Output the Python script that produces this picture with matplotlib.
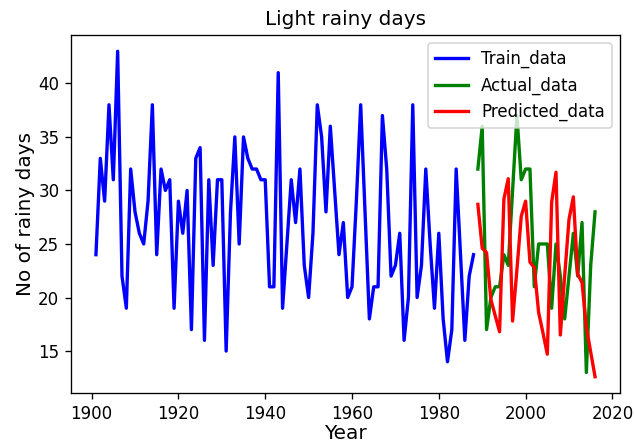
import matplotlib
matplotlib.use("Agg")
import matplotlib.pyplot as plt
import numpy as np

# Light rainy days per year
train_years = list(range(1901, 1989))
train_days = [24, 33, 29, 38, 31, 43, 22, 19, 32, 28,
              26, 25, 29, 38, 24, 32, 30, 31, 19, 29,
              26, 30, 17, 33, 34, 16, 31, 23, 31, 31,
              15, 28, 35, 25, 35, 33, 32, 32, 31, 31,
              21, 21, 41, 19, 25, 31, 27, 32, 23, 20,
              26, 38, 35, 28, 36, 30, 24, 27, 20, 21,
              29, 38, 28, 18, 21, 21, 37, 32, 22, 23,
              26, 16, 20, 38, 20, 23, 32, 25, 19, 26,
              18, 14, 17, 32, 24, 16, 22, 24]

test_years = list(range(1989, 2017))
actual_days = [32, 36, 17, 20, 21, 21, 24, 23, 30, 37,
               31, 32, 32, 21, 25, 25, 25, 19, 25, 22,
               18, 22, 26, 22, 27, 13, 23, 28]
predicted_days = [28.7, 24.6, 24.2, 19.8, 18.3, 16.8, 29.2, 31.1, 17.8, 22.6,
                  27.6, 29.0, 23.3, 22.8, 18.6, 16.7, 14.7, 28.9, 31.7, 16.5,
                  22.0, 27.3, 29.4, 22.2, 21.4, 17.2, 14.9, 12.6]

fig = plt.figure(figsize=(634 / 120, 443 / 120), dpi=120)
ax = fig.add_axes([71 / 634, 50 / 443, 549 / 634, 358 / 443])

ax.plot(train_years, train_days, color="blue", linewidth=2, label="Train_data")
ax.plot(test_years, actual_days, color="green", linewidth=2, label="Actual_data")
ax.plot(test_years, predicted_days, color="red", linewidth=2, label="Predicted_data")

ax.set_title("Light rainy days", fontsize=12)
ax.set_xlabel("Year", fontsize=12, labelpad=1)
ax.set_ylabel("No of rainy days", fontsize=12, labelpad=2)
ax.legend(loc="upper right")

fig.savefig("out.png", dpi=120)
